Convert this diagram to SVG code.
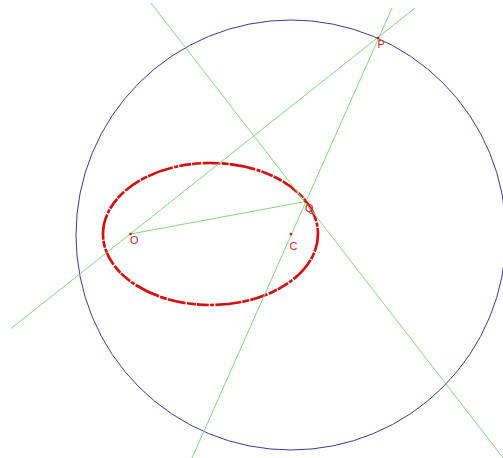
<svg xmlns="http://www.w3.org/2000/svg" width="503" height="458" viewBox="0 0 503 458">
<style>
.ln{stroke:#80d880;stroke-width:1;fill:none}
.circ{stroke:#3a3a9a;stroke-width:1;fill:none}
.ell{stroke:#d41010;stroke-width:2.7;fill:none;stroke-dasharray:18 1.2 7 1 26 1.5 4 1.2 12 1 9 1.4}
.pt{fill:#c01010}
.lbl{font-family:"Liberation Sans",Arial,sans-serif;font-size:11px;fill:#e02020}
</style>
<rect width="503" height="458" fill="#ffffff"/>
<g id="circle"><circle class="circ" cx="291" cy="235" r="215"/></g>
<g id="ellipse"><ellipse class="ell" cx="210.5" cy="234" rx="107.5" ry="71"/></g>
<g id="connectors">
<line class="ln" x1="151" y1="3" x2="504" y2="459"/>
<line class="ln" x1="11" y1="328.5" x2="415" y2="8"/>
<line class="ln" x1="392" y1="8" x2="192" y2="458"/>
<line class="ln" x1="130.5" y1="234" x2="305.5" y2="201.5"/>
</g>
<g id="P"><circle class="pt" cx="378" cy="38" r="1.3"/><text class="lbl" x="377.5" y="48">P</text></g>
<g id="Q"><circle class="pt" cx="305.5" cy="201.5" r="1.3"/><text class="lbl" x="305" y="212">Q</text></g>
<g id="O"><circle class="pt" cx="130.5" cy="234" r="1.3"/><text class="lbl" x="130" y="244">O</text></g>
<g id="C"><circle class="pt" cx="291" cy="234" r="1.3"/><text class="lbl" x="289.5" y="250">C</text></g>
</svg>
